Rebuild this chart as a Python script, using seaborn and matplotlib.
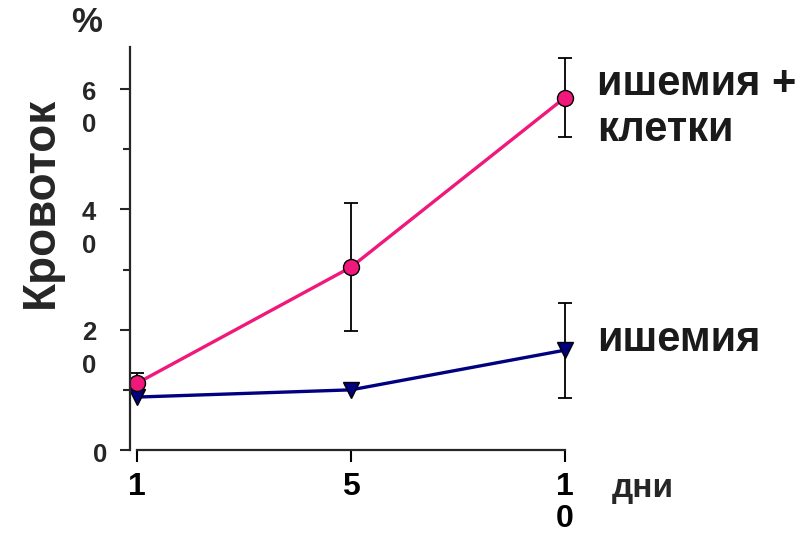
import matplotlib
matplotlib.use("Agg")
import matplotlib.pyplot as plt
import matplotlib.transforms as mtransforms
import pandas as pd
import seaborn as sns

# days after ischemia (drawn as equally spaced categories)
days = ["1", "5", "1\n0"]
cells_mean = [11.1, 30.4, 58.6]
cells_err = [1.7, 10.6, 6.5]
isch_mean = [8.8, 10.0, 16.6]
isch_err = [0.0, 0.0, 7.9]

y_ticks = [0, 20, 40, 60]
y_tick_labels = ["0", "2\n0", "4\n0", "6\n0"]
y_minor = [10, 30, 50]

group_cells = "ишемия +\nклетки"
group_isch = "ишемия"

pink = "#F0187A"
navy = "#000080"

sns.set_style("ticks")
plt.rcParams["font.family"] = ["Liberation Sans", "DejaVu Sans"]
plt.rcParams["font.weight"] = "bold"

pos = list(range(len(days)))
df = pd.DataFrame({
    "pos": pos + pos,
    "value": isch_mean + cells_mean,
    "group": [group_isch] * len(pos) + [group_cells] * len(pos),
})

fig = plt.figure(figsize=(8.09, 5.33), dpi=100)
ax = fig.add_axes([130 / 809, 83 / 533, 450 / 809, 403 / 533])

### error bars under the markers
ax.errorbar(pos, cells_mean, yerr=cells_err, fmt="none", ecolor="black",
            elinewidth=1.3, capsize=5, capthick=1.3, zorder=1.5)
ie = [i for i, e in enumerate(isch_err) if e > 0]
ax.errorbar([pos[i] for i in ie], [isch_mean[i] for i in ie],
            yerr=[isch_err[i] for i in ie], fmt="none", ecolor="black",
            elinewidth=1.3, capsize=5, capthick=1.3, zorder=1.5)

sns.lineplot(data=df, x="pos", y="value", hue="group", style="group",
             hue_order=[group_isch, group_cells],
             palette={group_isch: navy, group_cells: pink},
             markers={group_isch: "v", group_cells: "o"}, dashes=False,
             markersize=11.5, markeredgecolor="black", markeredgewidth=1,
             linewidth=2.4, legend=False, ax=ax)

ax.set_xlim(-7 / 214, 443 / 214)
ax.set_ylim(0, 67)
ax.set_xlabel("")
ax.set_ylabel("")

sns.despine(ax=ax)
ax.spines["left"].set_linewidth(1.6)
ax.spines["bottom"].set_linewidth(1.6)
ax.spines["left"].set_bounds(0, 67)
ax.spines["bottom"].set_bounds(0, 2)

ax.set_xticks(pos)
ax.set_xticklabels(days, fontsize=23, fontweight="bold", linespacing=1.06)
ax.tick_params(axis="x", length=8.5, width=1.5, pad=7.5, colors="black")

ax.set_yticks(y_ticks)
ax.set_yticks(y_minor, minor=True)
ax.set_yticklabels([])
ax.tick_params(axis="y", which="major", length=7, width=1.5)
ax.tick_params(axis="y", which="minor", length=5, width=1.5)

# y tick labels: digits stacked, first line level with the tick
for val, lab in zip(y_ticks, y_tick_labels):
    if "\n" in lab:
        off = mtransforms.ScaledTranslation(-41 / 100, -20 / 100, fig.dpi_scale_trans)
        ax.text(0, val, lab, transform=ax.get_yaxis_transform() + off,
                ha="center", va="center", fontsize=18.5, fontweight="bold",
                linespacing=1.45)
    else:
        off = mtransforms.ScaledTranslation(-30 / 100, -5 / 100, fig.dpi_scale_trans)
        ax.text(0, val, lab, transform=ax.get_yaxis_transform() + off,
                ha="center", va="center", fontsize=18.5, fontweight="bold")

# series names at the right ends
ax.text(2, cells_mean[-1], group_cells, transform=ax.transData + mtransforms.ScaledTranslation(32 / 100, 34 / 100, fig.dpi_scale_trans),
        ha="left", va="top", fontsize=30, fontweight="bold", linespacing=1.22,
        color="#1a1a1a", clip_on=False)
ax.text(2, isch_mean[-1], group_isch, transform=ax.transData + mtransforms.ScaledTranslation(32 / 100, 10 / 100, fig.dpi_scale_trans),
        ha="left", va="center", fontsize=30, fontweight="bold",
        color="#1a1a1a", clip_on=False)

fig.text(41 / 809, 1 - 202 / 533, "Кровоток", rotation=90, ha="center",
         va="center", fontsize=33, fontweight="bold")
fig.text(87 / 809, 1 - 23 / 533, "%", ha="center", va="center",
         fontsize=25, fontweight="bold")
fig.text(612 / 809, 1 - 488 / 533, "дни", ha="left", va="center",
         fontsize=24, fontweight="bold")

fig.savefig("out.png", dpi=100)
